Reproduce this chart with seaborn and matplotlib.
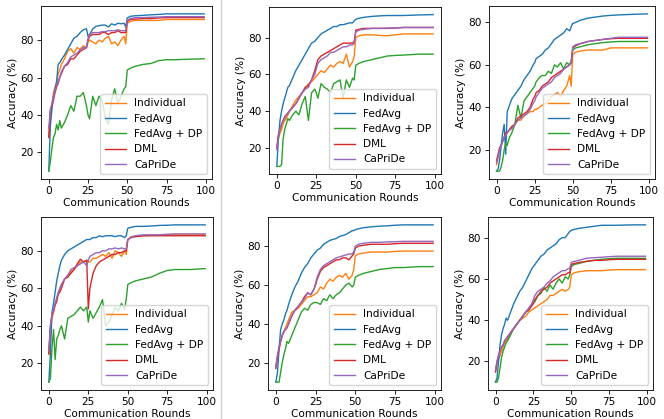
import numpy as np
import pandas as pd
import seaborn as sns
import matplotlib
matplotlib.use("Agg")
import matplotlib.pyplot as plt
from matplotlib.lines import Line2D

# ---------------- data ----------------
rounds = [0, 1, 2, 3, 4, 5, 6, 7, 8, 10, 12, 14, 16, 18, 20, 22, 24, 25, 26, 28, 30,
          32, 34, 36, 38, 40, 42, 44, 46, 48, 49, 50, 52, 55, 60, 65, 70, 75, 80, 90, 99]
methods = ["Individual", "FedAvg", "FedAvg + DP", "DML", "CaPriDe"]
colors = ["#ff7f0e", "#1f77b4", "#2ca02c", "#d62728", "#9467bd"]

# panel 1 (top-left)
p1_individual = [28,40,45,52,55,57,62,64,67,70,74,75.5,73,76,75,77,76,79,80,79,78,80,79,81,82,78,79,77,80,82,78,89,90,90.5,90.5,90.5,90.5,91,91,91,91]
p1_fedavg = [10,34,43,50,54,58,67,68,69.5,72,75,78,81,82,84,85.5,86,82,83,86,87.3,87.7,88,88,87,88.7,88,89,88.7,89,87,91.8,92.7,93,93.2,93.5,93.7,94,94,94,94]
p1_fedavg_dp = [10,15,22,28,30,35,32,37,33,36,40,45,42,50,50,52,45,40,38,50,45,50,48,38,35,48,54,46,50,54,55,64,65,66,67,67.5,69,69.5,69.5,69.8,70]
p1_dml = [28,42,45,48,52,55,57,60,62,66,67,70,70,72,74,75,76,80,82,83,83,83,84,84,83,84,84,85,84,84,84,90,91,91.2,91.5,91.5,91.8,92,92,92,92]
p1_capride = [33,43,46,50,53,56,58,60,63,66,68,71,72,73,75,76,76,81,83,84,84,84,84.5,84.5,85,85,85,85.5,85,85,85,90.5,91.5,92,92,92.2,92.3,92.5,92.5,92.5,92.5]

# panel 2 (top-middle)
p2_individual = [20,25,28,30,33,35,36,38,40,43,46,48,50,52,55,56,58,59,60,62,61,63,65,64,66,67,66,71,64,67,70,80,81,81.5,81.5,81.2,81,81.5,82,82,82]
p2_fedavg = [10,25,35,40,44,47,50,53,54,58,62,65,68,71,74,77,78,79,80,82,83,84,85,86,86,87,87,87.5,88,88,89,90,90.5,91,91.5,91.8,92,92,92,92.3,92.5]
p2_fedavg_dp = [10,10,10,11,25,30,33,36,35,38,40,38,44,48,35,50,52,50,47,55,53,52,50,55,56,57,47,57,53,58,57,65,66,67,68,69,70,70.3,70.5,71,71]
p2_dml = [20,27,30,33,35,37,38,39,40,42,44,47,50,53,54,57,62,65,68,70,71,72,73,74,75,76,77,77,77,77,78,84,84.5,85,85,85,85,85.2,85.5,85.5,85.5]
p2_capride = [19,27,30,33,35,36,38,39,40,42,44,47,50,52,53,57,60,63,66,68,69,70,72,72,73,74,75,75,76,76,77,83,84,84.5,85,85,85.2,85.3,85.5,85.5,85.5]

# panel 3 (top-right)
p3_individual = [13,16,20,22,24,26,27,28,29,31,32,34,34,36,37,38,38,39,39,40,41,42,43,45,46,47,45,48,50,55,50,65,66,66.5,67,67,67,68,68,68,68]
p3_fedavg = [10,11,15,22,28,32,18,38,40,44,46,48,50,53,55,57,60,61,63,64,65,67,68,70,72,73,74,75,77,76,78,79.5,80,81,82,82.5,83,83.3,83.5,83.8,84]
p3_fedavg_dp = [10,10,10,12,15,20,23,22,25,28,32,41,35,43,45,47,49,50,52,54,55,55,57,56,60,59,61,58,61,60,62,67,68,68.5,69.5,70,70.5,70.8,71,71,71]
p3_dml = [15,18,21,22,24,26,28,28.5,29,31,32,35,36,37,38,40,44,45,47,48,50,51,52,54,55,56,57,58,59,60,61,68,69,70,71,71.5,72,72.3,72.5,72.5,72.5]
p3_capride = [14,17,20,22,24,26,27,28,29,30,32,34,35,36,37,39,42,43,45,47,49,50,51,52,54,55,56,58,59,60,61,68.5,69.5,70,71,71.5,72,72.5,73,73,73]

# panel 4 (bottom-left)
p4_individual = [25,38,44,47,52,54,57,60,62,65,66,69,70,72,74,74,75,74,74,76,76,77,78,77,79,76,80,79,77,80,78,86,87.5,88,88,88.2,88.5,88.5,88.5,88.5,88.5]
p4_fedavg = [10,25,47,52,58,64,68,72,75,78,80,81,82,83,84,85,86,86,86,87,87,88,87.5,88,88,88,87.5,88,88,87,88,92,92.5,93,93,93.2,93.5,93.6,93.8,93.8,93.8]
p4_fedavg_dp = [10,12,28,38,22,33,35,38,40,33,44,45,46,48,50,48,50,42,48,44,47,50,54,40,42,46,50,48,52,49,54,62,63,64,65,66,68,69.5,70,70,70.5]
p4_dml = [25,40,46,48,51,53,57,58,60,65,66,68,70,73,75.5,74,75,49,60,68,72,74,75,76,77,78,78,79,79,80,80,86,87,87.5,88,88,88,88,88,88,88]
p4_capride = [27,40,46,49,52,55,58,60,62,65,67,70,71,72,73,74,72,75,77,78,79,79,80,80,81,81,81.5,81,81.5,81,81,86,87,88,88.5,88.5,88.5,88.8,89,89,89]

# panel 5 (bottom-middle)
p5_individual = [18,23,27,31,34,36,38,40,42,46,47,48,50,52,54,54,55,55.5,56,59,58,61,63,62,64,65,64,66,63,65,68,75,76,76.5,77,77,77,77.3,77.5,77.5,77.5]
p5_fedavg = [10,15,27,37,40,42,45,47,50,55,59,62,66,69,71,74,76,77,78,79,81,82,83,83.5,84,85,85.5,86,87,88,88,88.5,89,89.5,90,90.3,90.5,90.8,91,91,91]
p5_fedavg_dp = [10,10,10,15,20,24,27,31,30,34,38,42,46,48,47,50,51,51,51,50,53,52,55,53,55,56,58,60,61,59,60,64,65,66,67,68,68.5,69,69,69.5,69.5]
p5_dml = [17,23,27,31,34,36,37,38,40,44,47,49,51,54,56,55,58,60,63,67,69,70,71,72,73,73,74,74,73,75,76,79,80,80.5,81,81,81,81.3,81.5,81.5,81.5]
p5_capride = [18,24,28,31,34,36,37,38,40,44,47,49,51,53,56,55,58,61,64,68,70,71,72,73,74,74.5,75,75.5,76,76,77,80,81,81.5,82,82,82.2,82.3,82.5,82.5,82.5]

# panel 6 (bottom-right)
p6_individual = [15,18,21,23,25,27,29,30,31,34,36,38,40,41,42,44,45,45.5,46,47,48,49,50,52,52,53,54,55,54,55,56,62,63,63.5,64,64,64,64.3,64.5,64.5,64.5]
p6_fedavg = [10,12,20,28,33,36,38,41,40,44,48,51,54,56,59,62,65,66,67,69,71,72,74,75,76,77,79,80,80,82,83,83.5,84,84.5,85,85.5,86,86,86,86.2,86.2]
p6_fedavg_dp = [10,10,12,17,22,25,27,29,30,33,36,38,40,42,44,45,48,48.5,49,52,53,56,54,57,55,58,60,58,61,60,62,66,67,67.5,68.5,69,69.5,69.8,70,70,70]
p6_dml = [15,20,23,25,27,28,30,31,32,34,36,38,40,42,44,45,47,48,50,52,54,55,56,58,59,60,61,62,62,63,63,67,67.5,68,68.5,69,69,69.3,69.5,69.5,69.5]
p6_capride = [16,20,23,25,27,28,30,31,32,34,36,38,40,42,44,46,48,50,52,54,55,56,58,59,61,62,63,64,64,65,65,68,68.5,69,70,70.3,70.5,70.8,71,71,71]

panels = [
    [p1_individual, p1_fedavg, p1_fedavg_dp, p1_dml, p1_capride],
    [p2_individual, p2_fedavg, p2_fedavg_dp, p2_dml, p2_capride],
    [p3_individual, p3_fedavg, p3_fedavg_dp, p3_dml, p3_capride],
    [p4_individual, p4_fedavg, p4_fedavg_dp, p4_dml, p4_capride],
    [p5_individual, p5_fedavg, p5_fedavg_dp, p5_dml, p5_capride],
    [p6_individual, p6_fedavg, p6_fedavg_dp, p6_dml, p6_capride],
]
for p in panels:
    for s in p:
        assert len(s) == len(rounds), len(s)

# ---------------- style ----------------
sc = 0.76
plt.rcParams.update({
    "font.family": ["DejaVu Sans"],
    "font.size": 10 * sc,
    "axes.linewidth": 0.8 * sc,
    "xtick.major.size": 3.5 * sc,
    "ytick.major.size": 3.5 * sc,
    "xtick.major.width": 0.8 * sc,
    "ytick.major.width": 0.8 * sc,
    "xtick.major.pad": 2.5,
    "ytick.major.pad": 2.5,
    "axes.labelpad": 1.5,
    "legend.fontsize": 10 * sc,
})

W, H = 664, 419
fig = plt.figure(figsize=(W / 100, H / 100), dpi=100)

# (left, right, top, bottom) in pixels
boxes = [
    (41, 212, 6, 179),
    (269, 441, 7, 174),
    (489, 655, 6, 179),
    (41, 213, 217, 390),
    (268, 441, 217, 390),
    (488, 653, 217, 390),
]

for data, (l, r, t, b) in zip(panels, boxes):
    ax = fig.add_axes([l / W, 1 - b / H, (r - l) / W, (b - t) / H])
    df = pd.DataFrame({
        "round": np.tile(rounds, len(methods)),
        "acc": np.concatenate([np.asarray(s, float) for s in data]),
        "method": np.repeat(methods, len(rounds)),
    })
    sns.lineplot(data=df, x="round", y="acc", hue="method", hue_order=methods,
                 palette=colors, linewidth=1.0, ax=ax, legend=True)
    handles, labels = ax.get_legend_handles_labels()
    ax.legend(handles, labels, loc="lower right")
    ax.set_xlabel("Communication Rounds")
    ax.set_ylabel("Accuracy (%)")
    ax.set_xticks([0, 25, 50, 75, 100])

fig.add_artist(Line2D([221 / W, 221 / W], [0, 1], color="#cfcfcf", linewidth=1.0))

fig.savefig("out.png", dpi=100)
